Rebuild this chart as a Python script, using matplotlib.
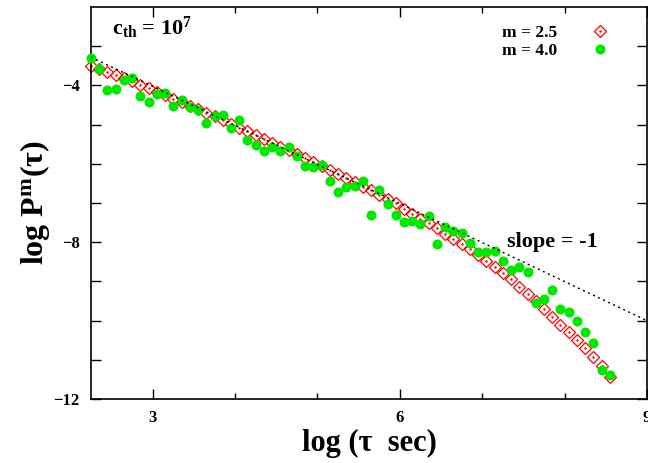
import matplotlib
matplotlib.use("Agg")
import matplotlib.pyplot as plt
from matplotlib.legend_handler import HandlerTuple

plt.rcParams['font.family'] = ['Liberation Serif', 'DejaVu Serif']
plt.rcParams['font.weight'] = 'bold'
plt.rcParams['mathtext.fontset'] = 'custom'
plt.rcParams['mathtext.rm'] = 'Liberation Serif:bold'
plt.rcParams['mathtext.it'] = 'Liberation Serif:bold'
plt.rcParams['mathtext.bf'] = 'Liberation Serif:bold'

# log(tau) positions, shared by both series
log_tau = [2.25, 2.35, 2.45, 2.55, 2.65, 2.75, 2.85, 2.95,
           3.05, 3.15, 3.25, 3.35, 3.45, 3.55, 3.65, 3.75, 3.85, 3.95,
           4.05, 4.15, 4.25, 4.35, 4.45, 4.55, 4.65, 4.75, 4.85, 4.95,
           5.05, 5.15, 5.25, 5.35, 5.45, 5.55, 5.65, 5.75, 5.85, 5.95,
           6.05, 6.15, 6.25, 6.35, 6.45, 6.55, 6.65, 6.75, 6.85, 6.95,
           7.05, 7.15, 7.25, 7.35, 7.45, 7.55, 7.65, 7.75, 7.85, 7.95,
           8.05, 8.15, 8.25, 8.35, 8.45, 8.55]

# m = 2.5 (red diamonds)
logp_m25 = [-3.50, -3.57, -3.65, -3.73, -3.81, -3.90, -3.98, -4.07,
            -4.16, -4.25, -4.34, -4.43, -4.52, -4.61, -4.70, -4.79, -4.89, -4.98,
            -5.08, -5.17, -5.27, -5.37, -5.47, -5.57, -5.66, -5.76, -5.86, -5.96,
            -6.06, -6.16, -6.27, -6.37, -6.47, -6.58, -6.68, -6.79, -6.90, -7.01,
            -7.16, -7.28, -7.40, -7.52, -7.65, -7.78, -7.91, -8.04, -8.18, -8.32,
            -8.47, -8.62, -8.78, -8.95, -9.13, -9.32, -9.51, -9.70, -9.90, -10.10,
            -10.30, -10.50, -10.71, -10.92, -11.15, -11.45]

# m = 4.0 (green circles)
logp_m40 = [-3.29, -3.57, -4.11, -4.09, -3.85, -3.81, -4.26, -4.43,
            -4.22, -4.19, -4.52, -4.38, -4.56, -4.64, -4.96, -4.79, -4.75, -5.09,
            -4.89, -5.39, -5.51, -5.68, -5.57, -5.68, -5.57, -5.81, -6.05, -6.07,
            -6.04, -6.45, -6.73, -6.59, -6.56, -6.45, -7.30, -6.66, -7.03, -7.30,
            -7.48, -7.45, -7.53, -7.34, -8.04, -7.60, -7.71, -7.77, -8.01, -8.26,
            -8.26, -8.23, -8.49, -8.70, -8.62, -8.77, -9.54, -9.45, -9.21, -9.70,
            -9.77, -10.02, -10.30, -10.57, -11.25, -11.38]

# reference line of slope -1
slope_x = [2.25, 9.0]
slope_y = [-3.28, -10.0]

fig = plt.figure(figsize=(6.48, 4.63), dpi=100)
ax = fig.add_axes([0.1404, 0.1382, 0.858, 0.8467])

red = '#ff0000'
green = '#00e800'

h_d, = ax.plot(log_tau, logp_m25, 'D', ms=6.0, mfc='none', mec=red, mew=0.9,
               clip_on=False, zorder=2)
h_dot, = ax.plot(log_tau, logp_m25, '.', ms=1.5, color=red, clip_on=False, zorder=2)
h_g, = ax.plot(log_tau, logp_m40, 'o', ms=6.2, color=green, mec=green,
               clip_on=False, zorder=3)
ax.plot(slope_x, slope_y, color='black', lw=1.0, linestyle=(0, (1.5, 2.5)), zorder=4)

ax.set_xlim(2.25, 9)
ax.set_ylim(-12, -2)
ax.set_xticks([3, 6, 9])
ax.set_xticks([4, 5, 7, 8], minor=True)
ax.set_yticks([-12, -8, -4])
ax.set_yticks([-11, -10, -9, -7, -6, -5, -3], minor=True)
ax.tick_params(which='both', direction='in', top=True, right=True, width=1.0,
               labelsize=12, pad=8)
ax.tick_params(axis='x', which='major', length=7)
ax.tick_params(axis='x', which='minor', length=4.5)
ax.tick_params(axis='y', which='both', length=7)
for lab in ax.get_xticklabels() + ax.get_yticklabels():
    lab.set_fontweight('bold')
for sp in ax.spines.values():
    sp.set_linewidth(1.2)

ax.set_xlabel('log (τ  sec)', fontsize=22, fontweight='bold', labelpad=2)
ax.set_ylabel('log P$^{m}$(τ)', fontsize=23, fontweight='bold', labelpad=1)

ax.text(2.50, -2.70, 'c$_{th}$ = 10$^{7}$', fontsize=16, fontweight='bold',
        va='baseline', ha='left')
ax.text(7.30, -8.0, 'slope = -1', fontsize=16, fontweight='bold',
        va='center', ha='left')

ax.legend([(h_d, h_dot), h_g], ['m = 2.5', 'm = 4.0'],
          handler_map={tuple: HandlerTuple(ndivide=1)},
          loc='upper right', bbox_to_anchor=(0.96, 0.995), frameon=False,
          markerfirst=False, handlelength=1.0, handletextpad=2.0,
          labelspacing=0.15, prop={'weight': 'bold', 'size': 12.5})

fig.savefig('out.png', dpi=100)
